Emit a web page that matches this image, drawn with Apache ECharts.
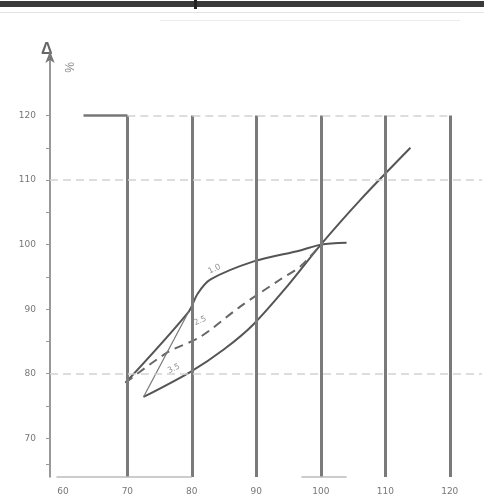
<!DOCTYPE html>
<html>
<head>
<meta charset="utf-8">
<script src="https://cdn.jsdelivr.net/npm/echarts@6/dist/echarts.min.js"></script>
<style>
html, body { margin: 0; padding: 0; background: #fff; }
#c_chart { width: 484px; height: 504px; }
</style>
</head>
<body>
<div id="c_chart"></div>
<script>
// values
var xTicks = [60, 70, 80, 90, 100, 110, 120];
var yTicks = [70, 80, 90, 100, 110, 120];
var gridX = [70, 80, 90, 100, 110, 120];
var dashY = [110, 80];
var baseSegs = [[59, 80], [97, 104]];
var upper = [[69.7, 78.6], [79.5, 89.6], [80.9, 92.4], [82.9, 94.6], [89.6, 97.4], [96.8, 99.1], [100, 100], [104, 100.3]];
var lower = [[72.5, 76.4], [79.8, 80.3], [85, 83.8], [89.5, 87.6], [95, 93.8], [100, 100], [106.1, 106.9], [113.9, 115.0]];
var middle = [[69.7, 78.6], [76.2, 83.3], [81.3, 85.7], [87.5, 90.4], [93.7, 94.6], [96.8, 96.6], [100, 100]];
var wedge = [[72.5, 76.4], [79.5, 89.6]];
var curveLabels = [['1.0', 83.5, 96.2], ['2.5', 81.3, 88.2], ['3.5', 77.2, 80.8]];

var dm = document.getElementById('c_chart');
var ch = echarts.init(dm);

var vLines = gridX.map(function (v) {
    return [{ coord: [v, 64] }, { coord: [v, 120] }];
});
var hLines = dashY.map(function (v) {
    return [{ coord: [58, v] }, { coord: [125, v] }];
});
var bLines = baseSegs.map(function (s) {
    return [{ coord: [s[0], 64] }, { coord: [s[1], 64] }];
});

var option = {
    animation: false,
    textStyle: { fontFamily: 'DejaVu Sans' },
    grid: { left: 50, top: 51, width: 432, height: 426 },
    xAxis: {
        type: 'value', min: 58, max: 125,
        axisLine: { show: false },
        axisTick: { show: false },
        axisLabel: { customValues: xTicks, color: '#777', fontSize: 9, margin: 10 },
        splitLine: { show: false }
    },
    yAxis: {
        type: 'value', min: 64, max: 130,
        axisLine: { symbol: ['none', 'arrow'], symbolSize: [7, 12], lineStyle: { color: '#777', width: 1.5 } },
        axisTick: { customValues: [66, 70, 75, 80, 85, 90, 95, 100, 105, 110, 115, 120], length: 4, lineStyle: { color: '#999' } },
        axisLabel: { customValues: yTicks, color: '#777', fontSize: 9, margin: 14 },
        splitLine: { show: false }
    },
    graphic: [
        { type: 'rect', shape: { x: 0, y: 1, width: 484, height: 6 }, style: { fill: '#3a3a3a' } },
        { type: 'rect', shape: { x: 194, y: 0, width: 3, height: 9 }, style: { fill: '#222' } },
        { type: 'rect', shape: { x: 0, y: 12, width: 484, height: 1 }, style: { fill: '#e4e4e4' } },
        { type: 'rect', shape: { x: 160, y: 20, width: 300, height: 1 }, style: { fill: '#ececec' } },
        { type: 'text', left: 41, top: 42, style: { text: 'Δ', fontSize: 16, fontWeight: 'bold', fill: '#666' } },
        { type: 'text', x: 74, y: 62, rotation: -Math.PI / 2, style: { text: '%', fontSize: 12, fill: '#888' } }
    ],
    series: [
        {
            type: 'line', data: [], silent: true,
            markLine: {
                symbol: 'none', silent: true, label: { show: false },
                lineStyle: { color: '#7a7a7a', width: 3, type: 'solid' },
                data: vLines
            }
        },
        {
            type: 'line', data: [], silent: true,
            markLine: {
                symbol: 'none', silent: true, label: { show: false },
                lineStyle: { color: '#d2d2d2', width: 1.5, type: [8, 5] },
                data: hLines.concat([[{ coord: [70, 120] }, { coord: [120, 120] }]])
            }
        },
        {
            type: 'line', data: [], silent: true,
            markLine: {
                symbol: 'none', silent: true, label: { show: false },
                lineStyle: { color: '#777', width: 2.5, type: 'solid' },
                data: [[{ coord: [63.2, 120] }, { coord: [70, 120] }]]
            }
        },
        {
            type: 'line', data: [], silent: true,
            markLine: {
                symbol: 'none', silent: true, label: { show: false },
                lineStyle: { color: '#bbb', width: 1.5, type: 'solid' },
                data: bLines
            }
        },
        { name: 'upper', type: 'line', data: upper, smooth: 0.3, symbol: 'none', lineStyle: { color: '#555', width: 2 } },
        { name: 'lower', type: 'line', data: lower, smooth: 0.3, symbol: 'none', lineStyle: { color: '#555', width: 2 } },
        { name: 'middle', type: 'line', data: middle, smooth: 0.3, symbol: 'none', lineStyle: { color: '#666', width: 2, type: [9, 6] } },
        { name: 'wedge', type: 'line', data: wedge, symbol: 'none', lineStyle: { color: '#777', width: 1.2 } },
        {
            type: 'scatter', symbolSize: 0,
            data: curveLabels.map(function (d) { return { value: [d[1], d[2]], name: d[0] }; }),
            label: { show: true, formatter: '{b}', color: '#777', fontSize: 8, rotate: 25 }
        }
    ]
};

ch.setOption(option);
</script>
</body>
</html>
